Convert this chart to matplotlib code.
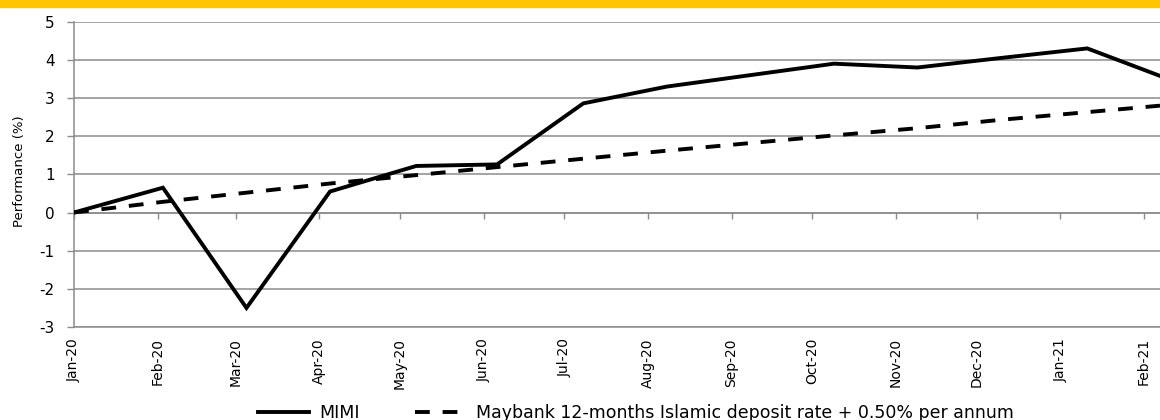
import matplotlib
matplotlib.use("Agg")
import matplotlib.pyplot as plt
import matplotlib.dates as mdates
from matplotlib.patches import Rectangle
import pandas as pd

# ---- data ----
point_dates = ["2020-01-01", "2020-02-03", "2020-03-05", "2020-04-05", "2020-05-07",
               "2020-06-06", "2020-07-08", "2020-08-08", "2020-09-08", "2020-10-09",
               "2020-11-09", "2020-12-10", "2021-01-11", "2021-02-07"]
mimi = [0.0, 0.65, -2.50, 0.55, 1.22, 1.26, 2.86, 3.30, 3.60, 3.90, 3.80, 4.05, 4.30, 3.58]
benchmark = [0.0, 0.28, 0.52, 0.76, 0.98, 1.19, 1.41, 1.62, 1.82, 2.02, 2.21, 2.43, 2.63, 2.80]
tick_dates = ["2020-01-01", "2020-02-01", "2020-03-01", "2020-04-01", "2020-05-01",
              "2020-06-01", "2020-07-01", "2020-08-01", "2020-09-01", "2020-10-01",
              "2020-11-01", "2020-12-01", "2021-01-01", "2021-02-01"]
tick_labels = ["Jan-20", "Feb-20", "Mar-20", "Apr-20", "May-20", "Jun-20", "Jul-20",
               "Aug-20", "Sep-20", "Oct-20", "Nov-20", "Dec-20", "Jan-21", "Feb-21"]
y_ticks = [-3, -2, -1, 0, 1, 2, 3, 4, 5]
series_names = ["MIMI", "Maybank 12-months Islamic deposit rate + 0.50% per annum"]
y_label = "Performance (%)"

plt.rcParams['font.family'] = ['DejaVu Sans']
plt.rcParams['axes.unicode_minus'] = False

x = mdates.date2num(pd.to_datetime(point_dates))
xt = mdates.date2num(pd.to_datetime(tick_dates))

GRAY = "#8c8c8c"
fig = plt.figure(figsize=(11.6, 4.2), dpi=100)
fig.patches.append(Rectangle((0, 1 - 7 / 420), 1, 7 / 420, transform=fig.transFigure,
                             color="#FFC600", zorder=0))

ax = fig.add_axes([74 / 1160, 1 - 327 / 420, 1086 / 1160, (327 - 21.7) / 420])
ax.plot(x, mimi, color="black", lw=2.8, solid_joinstyle="miter", label=series_names[0], zorder=3)
ax.plot(x, benchmark, color="black", lw=2.8, dashes=(3.8, 3.3), label=series_names[1], zorder=3)

ax.set_xlim(x[0], x[-1])
ax.set_ylim(-3, 5)
ax.set_yticks(y_ticks)
ax.yaxis.grid(True, color=GRAY, lw=1.1)
ax.set_axisbelow(True)

for s in ["top", "right"]:
    ax.spines[s].set_visible(False)
ax.spines["left"].set_color(GRAY)
ax.spines["left"].set_linewidth(1.1)
ax.spines["bottom"].set_position(("data", 0))
ax.spines["bottom"].set_color(GRAY)
ax.spines["bottom"].set_linewidth(1.1)

ax.set_xticks(xt)
ax.tick_params(axis="x", direction="out", length=4, width=1.0, color=GRAY, labelbottom=False)
ax.tick_params(axis="y", direction="out", length=5, width=1.0, color=GRAY, pad=9,
               labelsize=11, labelcolor="black")

sec = ax.secondary_xaxis("bottom")
sec.set_xticks(xt, tick_labels)
sec.tick_params(length=0, pad=8, labelsize=10, rotation=90)
sec.spines["bottom"].set_color(GRAY)
sec.spines["bottom"].set_linewidth(1.1)

ax.set_ylabel(y_label, fontsize=9.5)
ax.yaxis.set_label_coords(-0.044, 0.51)

leg = fig.legend(loc="center", bbox_to_anchor=(636 / 1160, 1 - 413 / 420), ncol=2,
                 frameon=False, fontsize=12.5, handlelength=2.9, handletextpad=0.6,
                 columnspacing=3.2, borderpad=0, borderaxespad=0)

fig.savefig("out.png", dpi=100)
